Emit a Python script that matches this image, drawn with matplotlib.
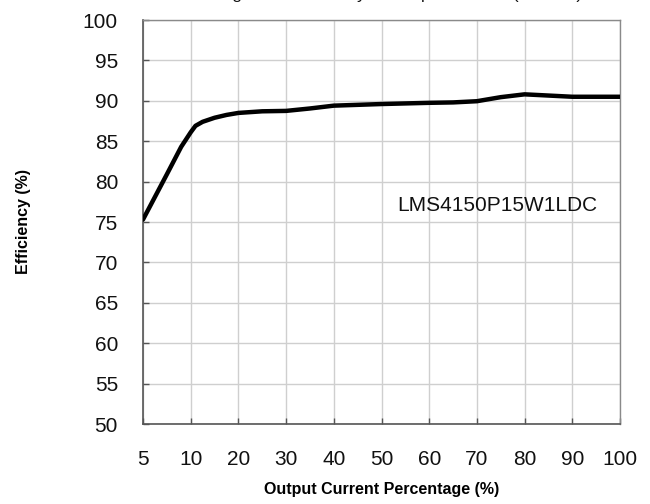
import matplotlib
matplotlib.use("Agg")
import matplotlib.pyplot as plt
import numpy as np

# ---- data ----
x_ticks = [5, 10, 20, 30, 40, 50, 60, 70, 80, 90, 100]
x_tick_labels = [str(v) for v in x_ticks]
y_ticks = [50, 55, 60, 65, 70, 75, 80, 85, 90, 95, 100]

current_pct = [5, 7.5, 9, 10, 11, 12.5, 15, 17.5, 20, 25, 30, 35, 40, 50, 60, 65, 70,
               75, 80, 85, 90, 100]
efficiency = [75.3, 80.9, 84.3, 86.1, 86.9, 87.4, 87.9, 88.25, 88.5, 88.7, 88.75, 89.05,
              89.4, 89.6, 89.75, 89.8, 89.95, 90.45, 90.8, 90.65, 90.5, 90.5]

model_label = "LMS4150P15W1LDC"
title_text = "Figure 1. Efficiency vs Output Current (230Vac)"

tick_font = ["Liberation Sans Narrow", "Liberation Sans", "DejaVu Sans"]
text_font = ["Liberation Sans", "DejaVu Sans"]

fig = plt.figure(figsize=(6.5, 5.04), dpi=100)
ax = fig.add_axes([143/650, 1 - 424/504, (620 - 143)/650, (424 - 20)/504])

# categorical (equally spaced) x axis: map current % onto tick positions
tick_pos = np.arange(len(x_ticks))
xpos = np.interp(current_pct, x_ticks, tick_pos)

ax.plot(xpos, efficiency, color="black", lw=3.2, solid_capstyle="round",
        solid_joinstyle="round", zorder=3)

ax.set_xlim(0, len(x_ticks) - 1)
ax.set_ylim(50, 100)
ax.set_xticks(tick_pos)
ax.set_xticklabels(x_tick_labels)
ax.set_yticks(y_ticks)

ax.grid(True, color="#cfcfcf", lw=1.0, zorder=0)
ax.set_axisbelow(True)

for s in ["left", "bottom"]:
    ax.spines[s].set_color("#555555")
    ax.spines[s].set_linewidth(1.2)
for s in ["top", "right"]:
    ax.spines[s].set_color("#8a8a8a")
    ax.spines[s].set_linewidth(1.0)

ax.tick_params(axis="both", direction="in", length=4, color="#555555", width=1.0)
ax.tick_params(axis="y", pad=18, labelsize=15)
ax.tick_params(axis="x", pad=19, labelsize=15)
for lab in ax.get_xticklabels() + ax.get_yticklabels():
    lab.set_fontfamily(tick_font)
    lab.set_color("#111111")

ax.set_xlabel("Output Current Percentage (%)", fontsize=11.5, fontweight="bold",
              family=text_font, labelpad=9)
ax.set_ylabel("Efficiency (%)", fontsize=11.5, fontweight="bold",
              family=text_font, labelpad=37)

ax.text(7.42, 77.1, model_label, fontsize=15, family=text_font, ha="center",
        va="center", color="#111111")

fig.text(400/650, 1 + 0.5/504, title_text, fontsize=12.5, family=text_font,
         ha="center", va="baseline", color="#111111")

fig.savefig("out.png", dpi=100)
